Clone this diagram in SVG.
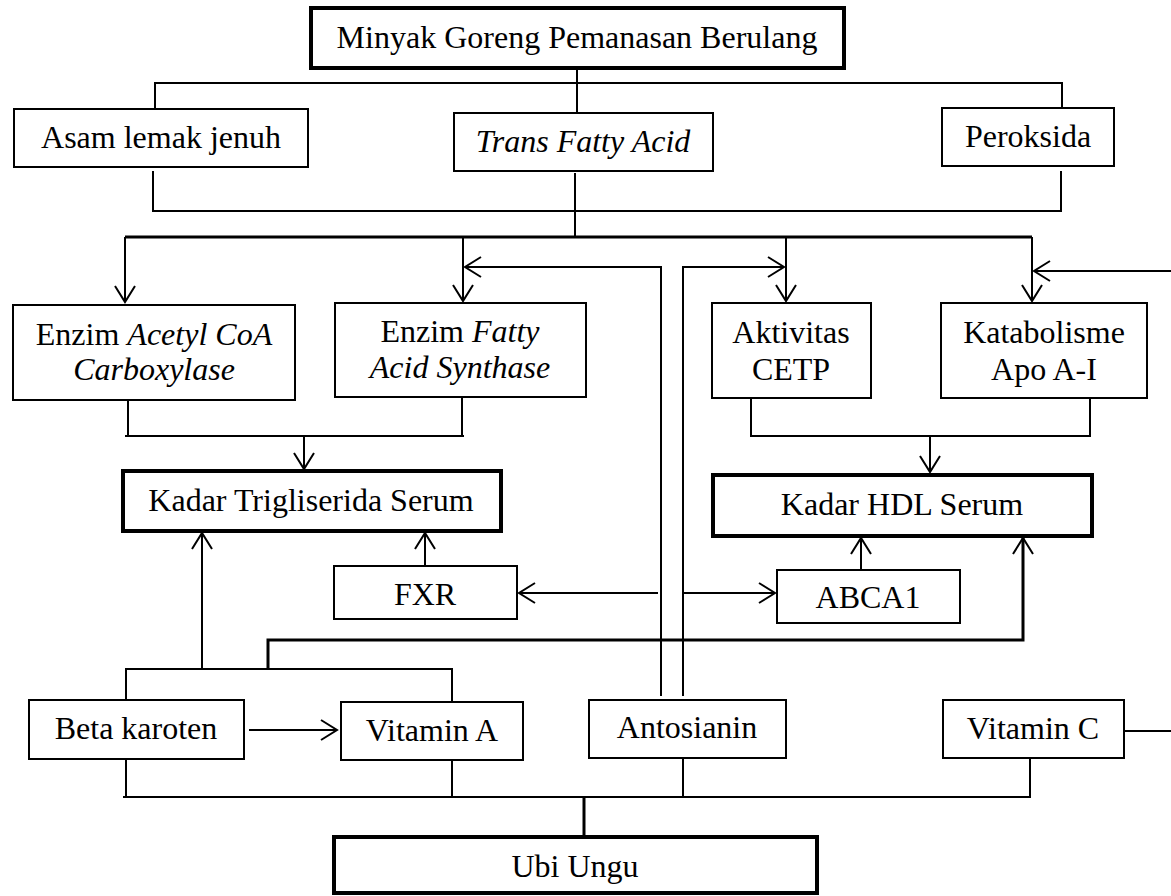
<svg xmlns="http://www.w3.org/2000/svg" width="1171" height="896" viewBox="0 0 1171 896">
<style>
.box{fill:#fff;stroke:#000;stroke-width:2}
.thick{fill:#fff;stroke:#000;stroke-width:4}
text{font-family:"Liberation Serif","Times New Roman",serif;font-size:32px;fill:#000;text-anchor:middle}
.it{font-style:italic}
.ln{fill:none;stroke:#000;stroke-width:2}
.lt{fill:none;stroke:#000;stroke-width:3}
.ar{marker-end:url(#ah)}
</style>
<defs>
<marker id="ah" markerUnits="userSpaceOnUse" markerWidth="30" markerHeight="30" viewBox="-20 -15 30 30" refX="0" refY="0" orient="auto">
<path d="M-16,-10 L0,0 L-16,10" fill="none" stroke="#000" stroke-width="2"/>
</marker>
</defs>
<g id="connectors">
<path class="ln" d="M577,68 V115 M155,108 V83 H1062 V108"/>
<path class="ln" d="M153,171 V211 H1061 V171 M575,173 V237"/>
<path class="lt" d="M125,237 H1032"/>
<path class="ln ar" d="M125,237 V302"/>
<path class="ln ar" d="M463,237 V301"/>
<path class="ln ar" d="M786,237 V301"/>
<path class="ln ar" d="M1032,237 V301"/>
<path class="ln ar" d="M661,696 V267 H465"/>
<path class="ln ar" d="M658,593 H519"/>
<path class="ln ar" d="M683,696 V267 H784"/>
<path class="ln ar" d="M682,593 H775"/>
<path class="ln ar" d="M1171,271 H1034"/>
<path class="ln" d="M1124,731 H1171"/>
<path class="ln" d="M128,400 V436 M462,397 V436 M125,436 H464"/>
<path class="ln ar" d="M304,436 V469"/>
<path class="ln" d="M751,398 V436 H1090 V398"/>
<path class="ln ar" d="M930,436 V472"/>
<path class="ln ar" d="M425,566 V533"/>
<path class="ln ar" d="M861,570 V538"/>
<path class="ln ar" d="M202,669 V533"/>
<path class="lt ar" d="M268,669 V640 H1023 V538"/>
<path class="ln" d="M126,700 V669 H452 V702"/>
<path class="ln ar" d="M249,730 H337"/>
<path class="ln" d="M126,759 V797 M452,760 V797 M123,797 H1030 V759 M683,758 V797"/>
<path class="lt" d="M584,797 V837"/>
</g>
<g id="minyak"><rect class="thick" x="311" y="8" width="533" height="60"/><text x="577" y="48">Minyak Goreng Pemanasan Berulang</text></g>
<g id="asam"><rect class="box" x="14" y="109" width="294" height="58"/><text x="161" y="148">Asam lemak jenuh</text></g>
<g id="tfa"><rect class="box" x="454" y="113" width="259" height="58"/><text class="it" x="583" y="152">Trans Fatty Acid</text></g>
<g id="peroksida"><rect class="box" x="942" y="108" width="172" height="58"/><text x="1028" y="147">Peroksida</text></g>
<g id="acc"><rect class="box" x="13" y="305" width="282" height="95"/><text x="154" y="345">Enzim <tspan class="it">Acetyl CoA</tspan></text><text class="it" x="154" y="380">Carboxylase</text></g>
<g id="fas"><rect class="box" x="335" y="303" width="251" height="94"/><text x="460" y="342">Enzim <tspan class="it">Fatty</tspan></text><text class="it" x="460" y="378">Acid Synthase</text></g>
<g id="cetp"><rect class="box" x="712" y="303" width="159" height="95"/><text x="791" y="343">Aktivitas</text><text x="791" y="380">CETP</text></g>
<g id="apoa"><rect class="box" x="941" y="303" width="206" height="95"/><text x="1044" y="343">Katabolisme</text><text x="1044" y="380">Apo A-I</text></g>
<g id="tg"><rect class="thick" x="123" y="471" width="378" height="60"/><text x="311" y="511">Kadar Trigliserida Serum</text></g>
<g id="hdl"><rect class="thick" x="713" y="475" width="379" height="61"/><text x="902" y="515">Kadar HDL Serum</text></g>
<g id="fxr"><rect class="box" x="334" y="566" width="183" height="53"/><text x="425" y="605">FXR</text></g>
<g id="abca1"><rect class="box" x="777" y="570" width="183" height="53"/><text x="868" y="608">ABCA1</text></g>
<g id="beta"><rect class="box" x="29" y="700" width="215" height="59"/><text x="136" y="739">Beta karoten</text></g>
<g id="vita"><rect class="box" x="341" y="702" width="182" height="58"/><text x="432" y="741">Vitamin A</text></g>
<g id="antosianin"><rect class="box" x="589" y="700" width="197" height="58"/><text x="687" y="738">Antosianin</text></g>
<g id="vitc"><rect class="box" x="943" y="700" width="181" height="58"/><text x="1033" y="739">Vitamin C</text></g>
<g id="ubi"><rect class="thick" x="334" y="837" width="483" height="56"/><text x="575" y="877">Ubi Ungu</text></g>
</svg>
